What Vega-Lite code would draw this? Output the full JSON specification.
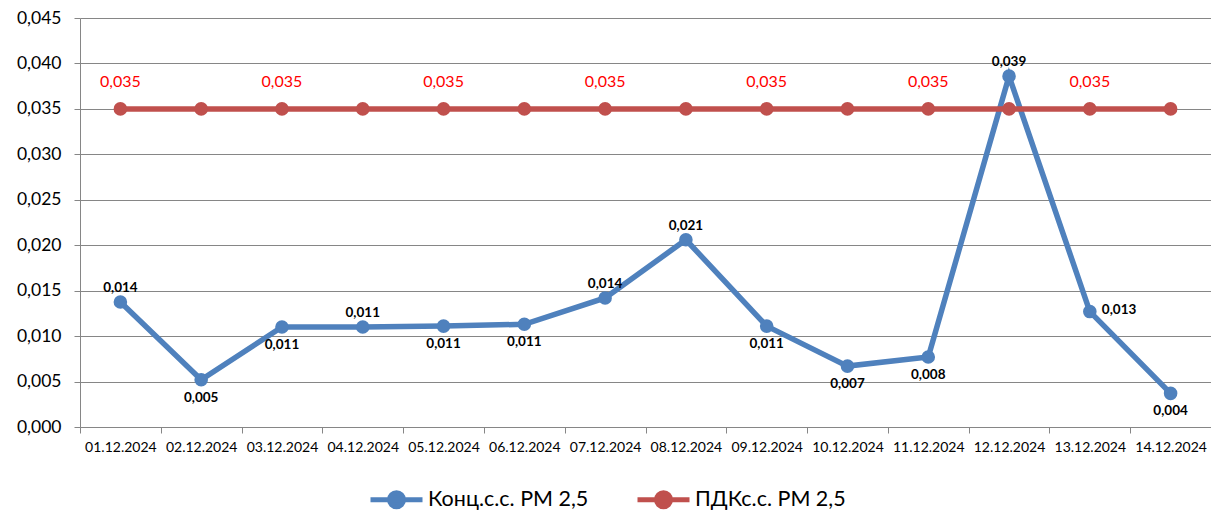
{
  "$schema": "https://vega.github.io/schema/vega-lite/v6.json",
  "autosize": "none",
  "padding": {"left": 80, "top": 18, "right": 0, "bottom": 84},
  "width": 1131,
  "height": 409,
  "config": {
    "locale": {"number": {"decimal": ",", "thousands": " ", "grouping": [3], "currency": ["", ""]}},
    "font": "Lato",
    "view": {"stroke": null}
  },
  "data": {
    "values": [
      {"date": "01.12.2024", "series": "Конц.с.с. PM 2,5", "value": 0.01375},
      {"date": "02.12.2024", "series": "Конц.с.с. PM 2,5", "value": 0.0052},
      {"date": "03.12.2024", "series": "Конц.с.с. PM 2,5", "value": 0.0110},
      {"date": "04.12.2024", "series": "Конц.с.с. PM 2,5", "value": 0.0110},
      {"date": "05.12.2024", "series": "Конц.с.с. PM 2,5", "value": 0.0111},
      {"date": "06.12.2024", "series": "Конц.с.с. PM 2,5", "value": 0.0113},
      {"date": "07.12.2024", "series": "Конц.с.с. PM 2,5", "value": 0.0142},
      {"date": "08.12.2024", "series": "Конц.с.с. PM 2,5", "value": 0.0206},
      {"date": "09.12.2024", "series": "Конц.с.с. PM 2,5", "value": 0.0111},
      {"date": "10.12.2024", "series": "Конц.с.с. PM 2,5", "value": 0.0067},
      {"date": "11.12.2024", "series": "Конц.с.с. PM 2,5", "value": 0.0077},
      {"date": "12.12.2024", "series": "Конц.с.с. PM 2,5", "value": 0.0386},
      {"date": "13.12.2024", "series": "Конц.с.с. PM 2,5", "value": 0.0127},
      {"date": "14.12.2024", "series": "Конц.с.с. PM 2,5", "value": 0.0037},
      {"date": "01.12.2024", "series": "ПДКс.с. PM 2,5", "value": 0.035},
      {"date": "02.12.2024", "series": "ПДКс.с. PM 2,5", "value": 0.035},
      {"date": "03.12.2024", "series": "ПДКс.с. PM 2,5", "value": 0.035},
      {"date": "04.12.2024", "series": "ПДКс.с. PM 2,5", "value": 0.035},
      {"date": "05.12.2024", "series": "ПДКс.с. PM 2,5", "value": 0.035},
      {"date": "06.12.2024", "series": "ПДКс.с. PM 2,5", "value": 0.035},
      {"date": "07.12.2024", "series": "ПДКс.с. PM 2,5", "value": 0.035},
      {"date": "08.12.2024", "series": "ПДКс.с. PM 2,5", "value": 0.035},
      {"date": "09.12.2024", "series": "ПДКс.с. PM 2,5", "value": 0.035},
      {"date": "10.12.2024", "series": "ПДКс.с. PM 2,5", "value": 0.035},
      {"date": "11.12.2024", "series": "ПДКс.с. PM 2,5", "value": 0.035},
      {"date": "12.12.2024", "series": "ПДКс.с. PM 2,5", "value": 0.035},
      {"date": "13.12.2024", "series": "ПДКс.с. PM 2,5", "value": 0.035},
      {"date": "14.12.2024", "series": "ПДКс.с. PM 2,5", "value": 0.035}
    ]
  },
  "encoding": {
    "x": {
      "field": "date", "type": "nominal", "sort": null, "title": null,
      "scale": {"paddingInner": 0, "paddingOuter": 0},
      "axis": {
        "labelAngle": 0, "labelFontSize": 14, "labelColor": "#000000", "labelPadding": 7,
        "tickBand": "extent", "tickSize": 6, "tickColor": "#868686", "domainColor": "#868686",
        "grid": false, "domainWidth": 1
      }
    },
    "y": {
      "field": "value", "type": "quantitative", "title": null,
      "scale": {"domain": [0, 0.045], "nice": false, "zero": true},
      "axis": {
        "values": [0, 0.005, 0.01, 0.015, 0.02, 0.025, 0.03, 0.035, 0.04, 0.045],
        "format": ".3f", "labelFontSize": 17.5, "labelColor": "#000000", "labelPadding": 13,
        "tickSize": 6, "tickColor": "#868686", "gridColor": "#868686", "gridWidth": 1,
        "domain": true, "domainColor": "#868686"
      }
    }
  },
  "layer": [
    {
      "mark": {"type": "line", "strokeWidth": 5.5, "point": {"filled": true, "size": 185, "opacity": 1}},
      "encoding": {
        "color": {
          "field": "series", "type": "nominal", "title": null,
          "scale": {"domain": ["Конц.с.с. PM 2,5", "ПДКс.с. PM 2,5"], "range": ["#4F81BD", "#C0504D"]},
          "sort": ["Конц.с.с. PM 2,5", "ПДКс.с. PM 2,5"],
          "legend": {
            "orient": "none", "legendX": 288, "legendY": 453, "direction": "horizontal",
            "symbolType": "M-1,0H1M0.27,0A0.27,0.27 0 1,1 -0.27,0A0.27,0.27 0 1,1 0.27,0Z",
            "symbolSize": 2704, "symbolStrokeWidth": 5, "labelFontSize": 21.5, "labelColor": "#000000",
            "labelOffset": 3, "columnPadding": 38, "labelLimit": 300
          }
        }
      }
    },
    {
      "transform": [
        {"filter": {"field": "series", "equal": "Конц.с.с. PM 2,5"}},
        {"filter": {"field": "date", "oneOf": ["01.12.2024", "04.12.2024", "07.12.2024", "08.12.2024", "12.12.2024"]}}
      ],
      "mark": {"type": "text", "fontWeight": "bold", "fontSize": 13.5, "dy": -14, "color": "#000000"},
      "encoding": {"text": {"field": "value", "type": "quantitative", "format": ".3f"}}
    },
    {
      "transform": [
        {"filter": {"field": "series", "equal": "Конц.с.с. PM 2,5"}},
        {"filter": {"field": "date", "oneOf": ["02.12.2024", "03.12.2024", "05.12.2024", "06.12.2024", "09.12.2024", "10.12.2024", "11.12.2024", "14.12.2024"]}}
      ],
      "mark": {"type": "text", "fontWeight": "bold", "fontSize": 13.5, "dy": 18, "color": "#000000"},
      "encoding": {"text": {"field": "value", "type": "quantitative", "format": ".3f"}}
    },
    {
      "transform": [
        {"filter": {"field": "series", "equal": "Конц.с.с. PM 2,5"}},
        {"filter": {"field": "date", "oneOf": ["13.12.2024"]}}
      ],
      "mark": {"type": "text", "fontWeight": "bold", "fontSize": 13.5, "dx": 12, "dy": -2, "align": "left", "color": "#000000"},
      "encoding": {"text": {"field": "value", "type": "quantitative", "format": ".3f"}}
    },
    {
      "transform": [
        {"filter": {"field": "series", "equal": "ПДКс.с. PM 2,5"}},
        {"filter": {"field": "date", "oneOf": ["01.12.2024", "03.12.2024", "05.12.2024", "07.12.2024", "09.12.2024", "11.12.2024", "13.12.2024"]}}
      ],
      "mark": {"type": "text", "fontSize": 16, "dy": -27, "color": "#FF0000"},
      "encoding": {"text": {"field": "value", "type": "quantitative", "format": ".3f"}}
    }
  ]
}
